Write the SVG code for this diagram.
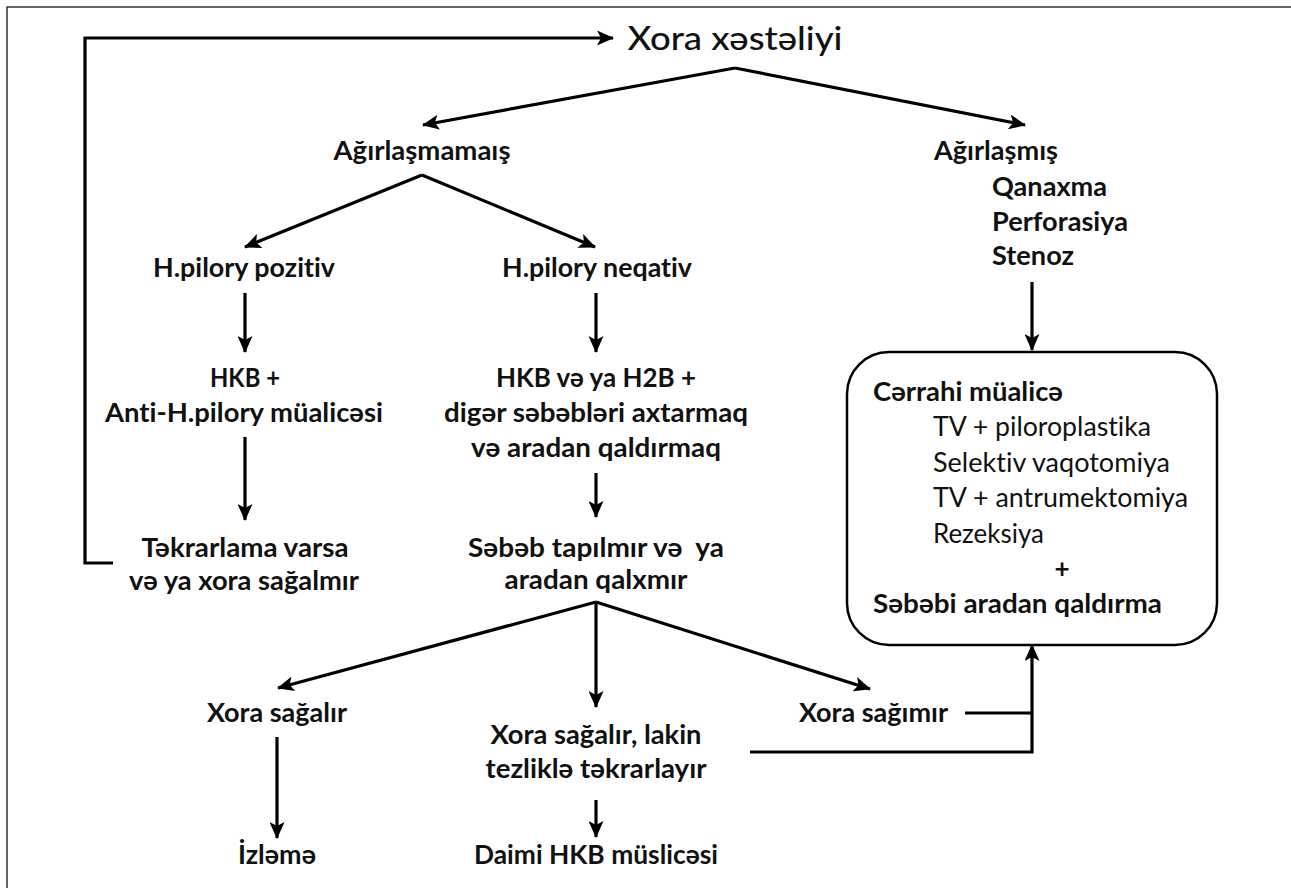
<svg xmlns="http://www.w3.org/2000/svg" width="1291" height="888" viewBox="0 0 1291 888">
<style>
  text { font-family: Lato, "Open Sans", "DejaVu Sans", sans-serif; fill: #111; font-variant-ligatures: none; }
  .b { font-weight: 700; font-size: 26px; }
  .r { font-weight: 400; font-size: 26px; }
  .t { font-weight: 500; font-size: 33px; }
  .c { text-anchor: middle; }
  .ln { fill: none; stroke: #000; stroke-width: 3.2; }
  .arr { marker-end: url(#ah); }
</style>
<defs>
  <marker id="ah" viewBox="0 0 17 15" refX="16" refY="7.5" markerWidth="17" markerHeight="15" markerUnits="userSpaceOnUse" orient="auto">
    <path d="M0,0 L17,7.5 L0,15 L4,7.5 z" fill="#000"/>
  </marker>
</defs>
<rect width="1291" height="888" fill="#fff"/>
<rect x="7" y="7" width="1310" height="900" fill="none" stroke="#333" stroke-width="1.5"/>

<g id="connectors">
  <line class="ln arr" x1="735" y1="68" x2="423" y2="125"/>
  <line class="ln arr" x1="735" y1="68" x2="1025" y2="125"/>
  <line class="ln arr" x1="422" y1="175" x2="245" y2="247"/>
  <line class="ln arr" x1="422" y1="175" x2="595" y2="247"/>
  <line class="ln arr" x1="245" y1="293" x2="245" y2="352"/>
  <line class="ln arr" x1="596" y1="293" x2="596" y2="352"/>
  <line class="ln arr" x1="245" y1="437" x2="245" y2="520"/>
  <line class="ln arr" x1="596" y1="473" x2="596" y2="517"/>
  <polyline class="ln arr" points="113,563 85,563 85,38 613,38"/>
  <line class="ln arr" x1="1032" y1="282" x2="1032" y2="350"/>
  <line class="ln arr" x1="596" y1="602" x2="278" y2="688"/>
  <line class="ln arr" x1="596" y1="602" x2="596" y2="707"/>
  <line class="ln arr" x1="596" y1="602" x2="870" y2="689"/>
  <line class="ln arr" x1="277" y1="737" x2="277" y2="838"/>
  <line class="ln arr" x1="596" y1="800" x2="596" y2="837"/>
  <line class="ln" x1="965" y1="713" x2="1032" y2="713"/>
  <polyline class="ln arr" points="750,752 1032,752 1032,645"/>
</g>

<g id="n-title"><text class="t c" x="735" y="50" textLength="215" lengthAdjust="spacingAndGlyphs">Xora xəstəliyi</text></g>
<g id="n-agirlasmamais"><text class="b c" x="422" y="160" textLength="177" lengthAdjust="spacingAndGlyphs">Ağırlaşmamaış</text></g>
<g id="n-agirlasmis">
  <text class="b" x="934" y="160" textLength="124" lengthAdjust="spacingAndGlyphs">Ağırlaşmış</text>
  <text class="b" x="992" y="196" textLength="115" lengthAdjust="spacingAndGlyphs">Qanaxma</text>
  <text class="b" x="992" y="231" textLength="136" lengthAdjust="spacingAndGlyphs">Perforasiya</text>
  <text class="b" x="992" y="265" textLength="82" lengthAdjust="spacingAndGlyphs">Stenoz</text>
</g>
<g id="n-hp-pozitiv"><text class="b c" x="244" y="277" textLength="182" lengthAdjust="spacingAndGlyphs">H.pilory pozitiv</text></g>
<g id="n-hp-neqativ"><text class="b c" x="597" y="277" textLength="190" lengthAdjust="spacingAndGlyphs">H.pilory neqativ</text></g>
<g id="n-hkb-anti">
  <text class="b c" x="245" y="387" textLength="70" lengthAdjust="spacingAndGlyphs">HKB +</text>
  <text class="b c" x="244" y="422" textLength="278" lengthAdjust="spacingAndGlyphs">Anti-H.pilory müalicəsi</text>
</g>
<g id="n-hkb-h2b">
  <text class="b c" x="596" y="387" textLength="200" lengthAdjust="spacingAndGlyphs">HKB və ya H2B +</text>
  <text class="b c" x="596" y="422" textLength="304" lengthAdjust="spacingAndGlyphs">digər səbəbləri axtarmaq</text>
  <text class="b c" x="596" y="457" textLength="250" lengthAdjust="spacingAndGlyphs">və aradan qaldırmaq</text>
</g>
<g id="n-tekrarlama">
  <text class="b c" x="245" y="557" textLength="207" lengthAdjust="spacingAndGlyphs">Təkrarlama varsa</text>
  <text class="b c" x="244" y="590" textLength="230" lengthAdjust="spacingAndGlyphs">və ya xora sağalmır</text>
</g>
<g id="n-sebeb">
  <text class="b c" x="596" y="557" textLength="256" lengthAdjust="spacingAndGlyphs" xml:space="preserve">Səbəb tapılmır və  ya</text>
  <text class="b c" x="596" y="589" textLength="183" lengthAdjust="spacingAndGlyphs">aradan qalxmır</text>
</g>
<g id="n-cerrahi">
  <rect x="847" y="352" width="370" height="293" rx="42" ry="42" fill="none" stroke="#000" stroke-width="2.5"/>
  <text class="b" x="873" y="401" textLength="190" lengthAdjust="spacingAndGlyphs">Cərrahi müalicə</text>
  <text class="r" x="933" y="436" textLength="218" lengthAdjust="spacingAndGlyphs">TV + piloroplastika</text>
  <text class="r" x="933" y="472" textLength="237" lengthAdjust="spacingAndGlyphs">Selektiv vaqotomiya</text>
  <text class="r" x="933" y="507" textLength="255" lengthAdjust="spacingAndGlyphs">TV + antrumektomiya</text>
  <text class="r" x="933" y="543" textLength="111" lengthAdjust="spacingAndGlyphs">Rezeksiya</text>
  <text class="b c" x="1062" y="578">+</text>
  <text class="b" x="873" y="613" textLength="289" lengthAdjust="spacingAndGlyphs">Səbəbi aradan qaldırma</text>
</g>
<g id="n-xora-sagalir"><text class="b c" x="277" y="722" textLength="140" lengthAdjust="spacingAndGlyphs">Xora sağalır</text></g>
<g id="n-xora-lakin">
  <text class="b c" x="596" y="744" textLength="211" lengthAdjust="spacingAndGlyphs">Xora sağalır, lakin</text>
  <text class="b c" x="596" y="778" textLength="221" lengthAdjust="spacingAndGlyphs">tezliklə təkrarlayır</text>
</g>
<g id="n-xora-sagimir"><text class="b" x="799" y="722" textLength="149" lengthAdjust="spacingAndGlyphs">Xora sağımır</text></g>
<g id="n-izleme"><text class="b c" x="277" y="864" textLength="78" lengthAdjust="spacingAndGlyphs">İzləmə</text></g>
<g id="n-daimi"><text class="b c" x="596" y="864" textLength="244" lengthAdjust="spacingAndGlyphs">Daimi HKB müslicəsi</text></g>
</svg>
